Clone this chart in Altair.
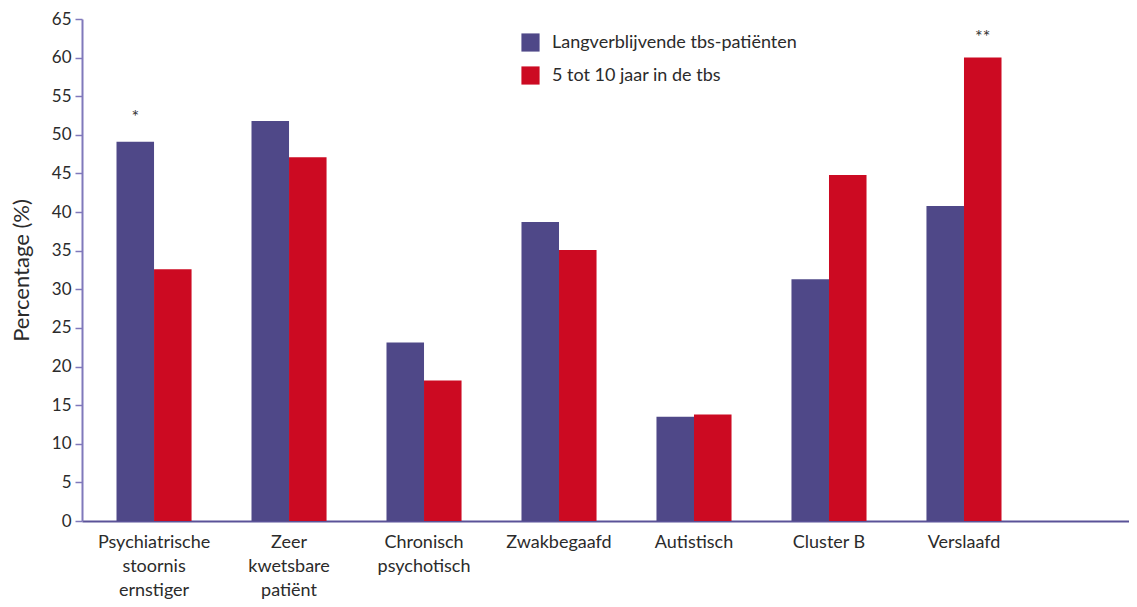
import altair as alt
import pandas as pd

categories = [
    "Psychiatrische|stoornis|ernstiger",
    "Zeer|kwetsbare|patiënt",
    "Chronisch|psychotisch",
    "Zwakbegaafd",
    "Autistisch",
    "Cluster B",
    "Verslaafd",
]
series_names = ["Langverblijvende tbs-patiënten", "5 tot 10 jaar in de tbs"]
long_stay = [49.1, 51.8, 23.1, 38.7, 13.5, 31.3, 40.8]
five_to_ten = [32.6, 47.1, 18.2, 35.1, 13.8, 44.8, 60.0]
y_ticks = [0, 5, 10, 15, 20, 25, 30, 35, 40, 45, 50, 55, 60, 65]

annot_cat = ["Psychiatrische|stoornis|ernstiger", "Verslaafd"]
annot_series = ["Langverblijvende tbs-patiënten", "5 tot 10 jaar in de tbs"]
annot_value = [49.1, 60.0]
annot_text = ["*", "**"]

rows = []
for c, a, b in zip(categories, long_stay, five_to_ten):
    rows.append({"cat": c, "series": series_names[0], "value": a})
    rows.append({"cat": c, "series": series_names[1], "value": b})
df = pd.DataFrame(rows)
ann = pd.DataFrame({"cat": annot_cat, "series": annot_series,
                    "value": annot_value, "label": annot_text})

FONT = "Lato"
PURPLE = "#4f4888"
RED = "#cc0a22"
YAXIS = "#8079bb"
XAXIS = "#5a5298"
TXT = "#2b2b2b"

x = alt.X(
    "cat:N", sort=categories, title=None,
    scale=alt.Scale(paddingInner=0.444, paddingOuter=0.6, align=0.213),
    axis=alt.Axis(labelExpr="split(datum.label, '|')", labelAngle=0,
                  labelFontSize=18, labelLineHeight=24, labelPadding=12,
                  ticks=False, domainColor=XAXIS, domainWidth=2,
                  labelFont=FONT, labelColor=TXT, labelLimit=0),
)
xo = alt.XOffset("series:N", sort=series_names,
                 scale=alt.Scale(paddingInner=0, paddingOuter=0))
y = alt.Y(
    "value:Q", scale=alt.Scale(domain=[0, 65], nice=False),
    axis=alt.Axis(values=y_ticks, title="Percentage (%)", grid=False,
                  tickColor=YAXIS, tickSize=7, tickWidth=1.5,
                  domainColor=YAXIS, domainWidth=2, labelOverlap=False,
                  labelFontSize=17, labelPadding=4, labelFont=FONT,
                  labelColor=TXT, titleFont=FONT, titleFontSize=22,
                  titleFontWeight="normal", titleColor=TXT, titlePadding=18),
)
color = alt.Color(
    "series:N", sort=series_names,
    scale=alt.Scale(domain=series_names, range=[PURPLE, RED]),
    legend=alt.Legend(title=None, orient="none", legendX=439, legendY=14,
                      symbolType="square", symbolSize=330, labelFontSize=18,
                      labelFont=FONT, labelColor=TXT, rowPadding=14,
                      labelOffset=12, padding=0, symbolStrokeWidth=0,
                      symbolOpacity=1, labelLimit=0),
)

bars = alt.Chart(df).mark_bar(opacity=1).encode(x=x, xOffset=xo, y=y, color=color)

star1 = alt.Chart(ann).transform_filter(alt.datum.label == "*").mark_text(
    dy=-24, fontSize=18, font=FONT, color="#333"
).encode(x=x, xOffset=xo, y=y, text="label:N")
star2 = alt.Chart(ann).transform_filter(alt.datum.label == "**").mark_text(
    dy=-20, fontSize=18, font=FONT, color="#333"
).encode(x=x, xOffset=xo, y=y, text="label:N")

chart = alt.layer(bars, star1, star2).properties(
    width=1047, height=502,
    padding={"left": 74, "top": 11, "right": 0, "bottom": 78},
    autosize=alt.AutoSizeParams(type="none"),
).configure_view(stroke=None)

chart.save("out.html", embed_options={"renderer": "svg", "actions": False})
